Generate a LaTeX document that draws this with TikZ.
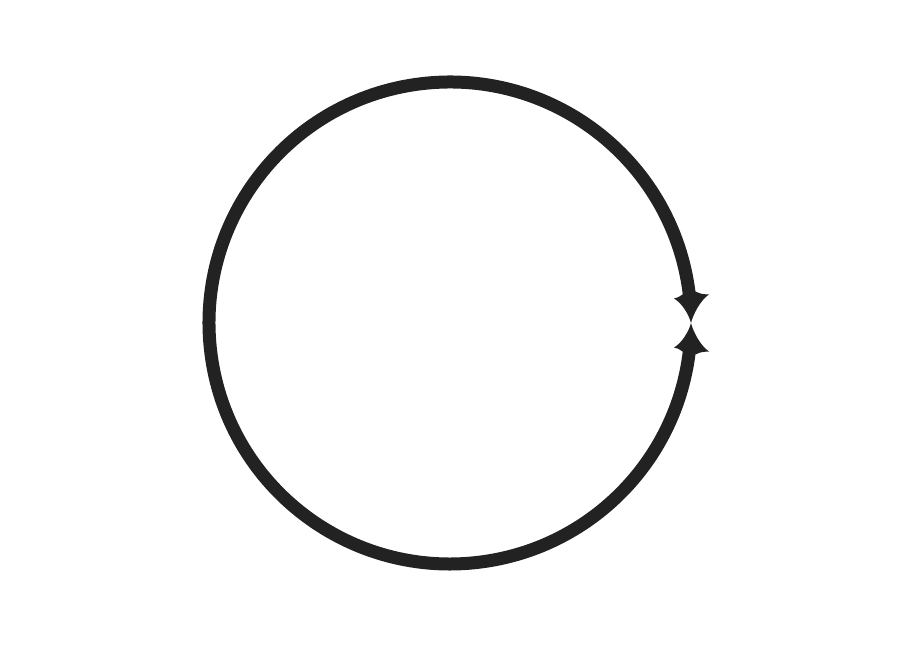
\documentclass[tikz,border=0pt]{standalone}
\usetikzlibrary{calc}
\definecolor{loopgray}{HTML}{222222}
\tikzset{
  loopline/.style={line width=0.26cm, draw=loopgray},
  loophead/.style={fill=loopgray}
}
\begin{document}
\begin{tikzpicture}
	% Fix the page size
	\useasboundingbox (0,0) rectangle (18,12.96);
	
	% Centre of the loop and the point where the arrows meet
	\coordinate (centre) at (9,6.5);
	\coordinate (meet) at ($(centre)+(4.82,0)$);
	
	% The loop, open at the meeting point
	\draw[loopline] ($(centre)+(6.5:4.82)$) arc[start angle=6.5, end angle=353.5, radius=4.82];
	
	% Heads with curved flanks, upper one and lower one
	\foreach \s in {1,-1}
	\fill[loophead, shift={(meet)}, yscale=\s]
	(0,0) .. controls (-0.04,0.16) and (-0.18,0.40) .. (-0.34,0.49)
	.. controls (-0.26,0.51) .. (-0.17,0.57) -- (0.09,0.63)
	.. controls (0.2,0.58) .. (0.36,0.57)
	.. controls (0.18,0.45) and (0.04,0.16) .. cycle;
	
\end{tikzpicture}
\end{document}
